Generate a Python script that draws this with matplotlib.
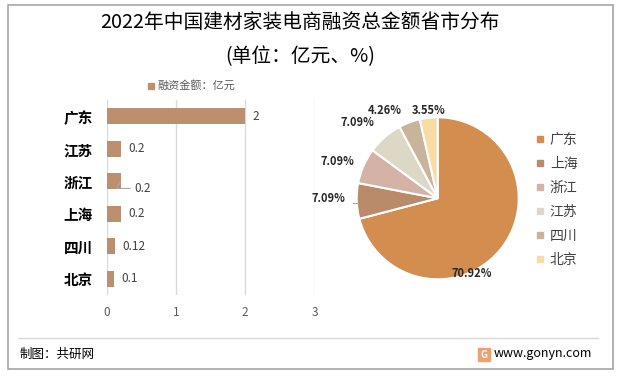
import matplotlib
matplotlib.use("Agg")
import matplotlib.pyplot as plt
from matplotlib.patches import Rectangle
from matplotlib.lines import Line2D

plt.rcParams['font.family'] = ['Noto Sans CJK SC', 'DejaVu Sans']

# ---- data ----
bar_categories = ['广东', '江苏', '浙江', '上海', '四川', '北京']
bar_values = [2, 0.2, 0.2, 0.2, 0.12, 0.1]
bar_labels = ['2', '0.2', '0.2', '0.2', '0.12', '0.1']
x_ticks = [0, 1, 2, 3]

pie_categories = ['广东', '上海', '浙江', '江苏', '四川', '北京']
pie_values = [70.92, 7.09, 7.09, 7.09, 4.26, 3.55]

title = '2022年中国建材家装电商融资总金额省市分布'
subtitle = '(单位：亿元、%)'
bar_legend = '融资金额：亿元'

# ---- styles ----
W, H = 622, 379
fig = plt.figure(figsize=(W / 100, H / 100), dpi=100)
fig.patch.set_facecolor('white')

def fx(px):
    return px / W

def fy(py):
    return 1 - py / H

bar_color = '#BC8F6F'
pie_colors = ['#D38D4F', '#B98B6B', '#D4B2A6', '#DDD7C5', '#C8B49A', '#F8DCA5']
txt = '#404040'

# outer border
fig.add_artist(Rectangle((fx(8), fy(369)), fx(613) - fx(8), fy(5) - fy(369),
                         transform=fig.transFigure, fill=False,
                         edgecolor='#A6A6A6', linewidth=1.2))

fig.text(fx(300), fy(22), title, ha='center', va='center', fontsize=14.2, color='#000000')
fig.text(fx(300), fy(57), subtitle, ha='center', va='center', fontsize=14.2, color='#000000')

# bar legend
fig.add_artist(Rectangle((fx(148), fy(89)), fx(6), fy(0) - fy(6),
                         transform=fig.transFigure, color=bar_color))
fig.text(fx(157), fy(85), bar_legend, ha='left', va='center', fontsize=8, color='#595959')

# ---- bar chart ----
axb = fig.add_axes([fx(106.7), fy(295), fx(314.5) - fx(106.7), fy(100) - fy(295)])
ypos = list(range(len(bar_categories)))
axb.barh(ypos, bar_values, height=0.5, color=bar_color, zorder=3)
axb.set_xlim(0, 3)
axb.set_ylim(len(bar_categories) - 0.5, -0.5)
axb.set_xticks(x_ticks)
axb.set_xticklabels([str(t) for t in x_ticks], fontsize=8.5, color='#595959')
axb.set_yticks(ypos)
axb.set_yticklabels(bar_categories, fontsize=10.5, fontweight='bold', color='#000000')
axb.grid(axis='x', color='#D9D9D9', linewidth=1, zorder=0)
for s in axb.spines.values():
    s.set_visible(False)
axb.tick_params(axis='both', length=0)
axb.tick_params(axis='x', pad=8)
axb.tick_params(axis='y', pad=10)
for i, (v, lab) in enumerate(zip(bar_values, bar_labels)):
    if i == 2:
        axb.annotate(lab, xy=(v, i), xytext=(v + 0.2, i + 0.22), fontsize=8.5, color=txt,
                     va='center', ha='left',
                     arrowprops=dict(arrowstyle='-', color='#A6A6A6', lw=0.8,
                                     connectionstyle='angle,angleA=0,angleB=60',
                                     shrinkA=1, shrinkB=0))
    else:
        axb.text(v + 0.11, i, lab, fontsize=8.5, color=txt, va='center', ha='left')

# ---- pie chart ----
cx, cy, r = 437.7, 198.3, 81
axp = fig.add_axes([fx(cx - r), fy(cy + r), fx(2 * r), fy(0) - fy(2 * r)])
wedges, _ = axp.pie(pie_values, colors=pie_colors, startangle=90, counterclock=False,
                    wedgeprops=dict(edgecolor='white', linewidth=1.5))
axp.set_xlim(-1, 1)
axp.set_ylim(-1, 1)
axp.set_aspect('equal')
axp.axis('off')
label_pos = [(0.42, -0.93), (-1.35, 0.0), (-1.24, 0.46), (-0.985, 0.93), (-0.65, 1.09), (-0.11, 1.09)]
for v, (lx, ly) in zip(pie_values, label_pos):
    axp.text(lx, ly, f'{v:.2f}%', ha='center', va='center', fontsize=8, fontweight='bold',
             color='#262626', clip_on=False)
axp.add_line(Line2D([-1.05, -0.98], [-0.06, -0.06], color='#A6A6A6', lw=0.8, clip_on=False))

handles = [Line2D([0], [0], marker='s', linestyle='none', markersize=5,
                  markerfacecolor=c, markeredgecolor=c) for c in pie_colors]
fig.legend(handles, pie_categories, loc='upper left',
           bbox_to_anchor=(fx(536), fy(133)), frameon=False, fontsize=10,
           handlelength=0.6, handletextpad=0.4, labelspacing=0.72,
           borderaxespad=0, borderpad=0, labelcolor='#404040')

# ---- footer ----
fig.add_artist(Line2D([fx(18), fx(598)], [fy(338), fy(338)], transform=fig.transFigure,
                      color='#D9D9D9', lw=1))
fig.text(fx(20), fy(354), '制图：共研网', ha='left', va='center', fontsize=9, color='#000000')
fig.add_artist(Rectangle((fx(478), fy(361)), fx(12), fy(0) - fy(13),
                         transform=fig.transFigure, color='#F0A070'))
fig.text(fx(484), fy(354.5), 'G', ha='center', va='center', fontsize=7, color='white',
         fontweight='bold')
fig.text(fx(494), fy(354), 'www.gonyn.com', ha='left', va='center', fontsize=9, color='#000000')

fig.savefig('out.png', dpi=100, facecolor='white')
